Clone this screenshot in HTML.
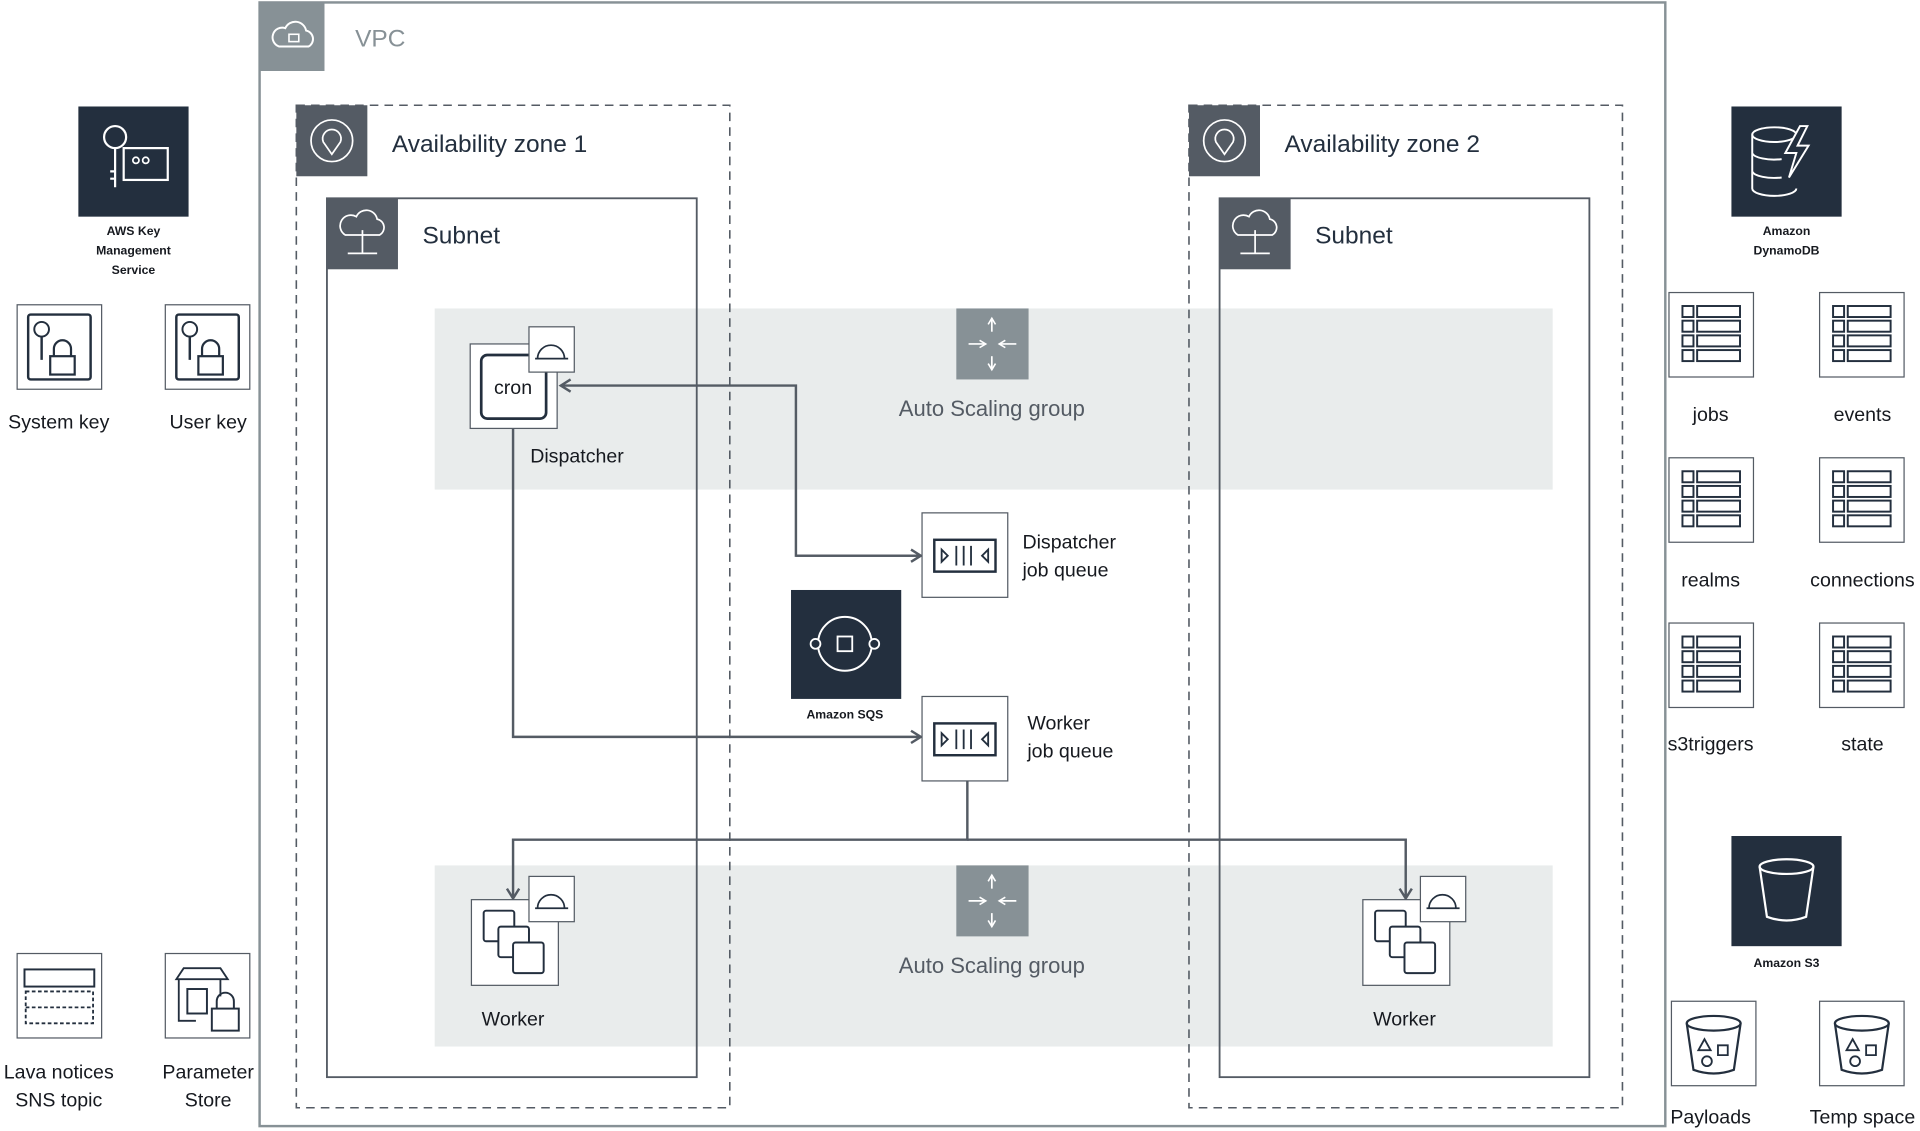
<!DOCTYPE html>
<html><head><meta charset="utf-8"><style>
html,body{margin:0;padding:0;background:#fff;}
svg{display:block;}
text{font-family:"Liberation Sans",sans-serif;fill:#16191f;}
</style></head><body>
<svg width="1920" height="1131" viewBox="0 0 1568 924" preserveAspectRatio="none" xmlns="http://www.w3.org/2000/svg">
<defs>
<marker id="ah" markerWidth="12" markerHeight="12" refX="10" refY="6" orient="auto" markerUnits="userSpaceOnUse">
<path d="M2,1 L10,6 L2,11" fill="none" stroke="#545b64" stroke-width="2"/></marker>
<marker id="wh" markerWidth="8" markerHeight="8" refX="6" refY="4" orient="auto" markerUnits="userSpaceOnUse">
<path d="M1,1 L6,4 L1,7" fill="none" stroke="#fff" stroke-width="1.3"/></marker>
<g id="asg">
<rect x="0" y="0" width="59" height="58" fill="#879196"/>
<g stroke="#fff" stroke-width="1.4" fill="none">
<path d="M29,19 V8" marker-end="url(#wh)"/><path d="M29,39 V50" marker-end="url(#wh)"/>
<path d="M10,29 H24" marker-end="url(#wh)"/><path d="M49,29 H35" marker-end="url(#wh)"/></g></g>
<g id="tbl"><rect x="0" y="0" width="69" height="69" fill="#fff" stroke="#545b64" stroke-width="1"/>
<g fill="none" stroke="#232f3e" stroke-width="1.6">
<rect x="11" y="11" width="9" height="9"/><rect x="23" y="11" width="35" height="9"/>
<rect x="11" y="23" width="9" height="9"/><rect x="23" y="23" width="35" height="9"/>
<rect x="11" y="35" width="9" height="9"/><rect x="23" y="35" width="35" height="9"/>
<rect x="11" y="47" width="9" height="9"/><rect x="23" y="47" width="35" height="9"/></g></g>
<g id="key"><rect x="0" y="0" width="69" height="69" fill="#fff" stroke="#545b64" stroke-width="1"/>
<rect x="9" y="8" width="51" height="53" rx="2" fill="none" stroke="#232f3e" stroke-width="2"/>
<circle cx="20" cy="20" r="6" fill="none" stroke="#232f3e" stroke-width="1.6"/>
<path d="M20,26 V45" stroke="#232f3e" stroke-width="2"/>
<rect x="27" y="42" width="20" height="15" fill="none" stroke="#232f3e" stroke-width="1.8"/>
<path d="M30,42 v-6 a7,7 0 0 1 14,0 v6" fill="none" stroke="#232f3e" stroke-width="1.8"/></g>
<g id="bkt"><rect x="0" y="0" width="69" height="69" fill="#fff" stroke="#545b64" stroke-width="1"/>
<ellipse cx="34.5" cy="18" rx="22" ry="6" fill="none" stroke="#232f3e" stroke-width="1.8"/>
<path d="M12.5,18 L18,56 Q34.5,62 51,56 L56.5,18" fill="none" stroke="#232f3e" stroke-width="1.8"/>
<path d="M22,40 l5,-9 l5,9z M38,36 h8 v8 h-8z" fill="none" stroke="#232f3e" stroke-width="1.5"/>
<circle cx="29" cy="49" r="4" fill="none" stroke="#232f3e" stroke-width="1.5"/></g>
<g id="que"><rect x="0" y="0" width="70" height="69" fill="#fff" stroke="#545b64" stroke-width="1"/>
<rect x="10" y="22" width="50" height="26" fill="none" stroke="#232f3e" stroke-width="2"/>
<path d="M16,30 v10 l5,-5z M54,30 v10 l-5,-5z" fill="none" stroke="#232f3e" stroke-width="1.5"/>
<path d="M28,27 v16 M34,27 v16 M40,27 v16" stroke="#232f3e" stroke-width="1.5"/></g>
<g id="helm"><rect x="0" y="0" width="37" height="37" fill="#fff" stroke="#545b64" stroke-width="1"/>
<path d="M7,26 a11,11 0 0 1 22,0 z M5,26 h27" fill="none" stroke="#232f3e" stroke-width="1.4"/></g>
<g id="wrk"><rect x="0" y="0" width="71" height="70" fill="#fff" stroke="#545b64" stroke-width="1"/>
<rect x="10" y="9" width="25" height="25" rx="2" fill="#fff" stroke="#232f3e" stroke-width="1.6"/>
<rect x="22" y="22" width="25" height="25" rx="2" fill="#fff" stroke="#232f3e" stroke-width="1.6"/>
<rect x="34" y="35" width="25" height="25" rx="2" fill="#fff" stroke="#232f3e" stroke-width="1.6"/></g>
</defs>

<rect x="212" y="2" width="1148" height="918" fill="none" stroke="#879196" stroke-width="2"/>
<rect x="212" y="2" width="53" height="56" fill="#879196"/>
<path d="M228,38 h24 a7,7 0 0 0 -2,-13 a9,9 0 0 0 -17,-2 a7,7 0 0 0 -5,15z" fill="none" stroke="#fff" stroke-width="1.6"/>
<rect x="236" y="28" width="8" height="6" fill="none" stroke="#fff" stroke-width="1.3"/>
<text x="290" y="38" font-size="20" style="fill:#879196">VPC</text>

<rect x="355" y="252" width="913" height="148" fill="#e9ecec"/>
<rect x="355" y="707" width="913" height="148" fill="#e9ecec"/>

<rect x="242" y="86" width="354" height="819" fill="none" stroke="#545b64" stroke-width="1.3" stroke-dasharray="7,5"/>
<rect x="242" y="86" width="58" height="58" fill="#545b64"/>
<circle cx="271" cy="115" r="17" fill="none" stroke="#fff" stroke-width="1.4"/>
<path d="M271,126 l-7,-10 a7.5,7.5 0 1 1 14,0z" fill="none" stroke="#fff" stroke-width="1.4"/>
<text x="320" y="124" font-size="20" style="fill:#232f3e">Availability zone 1</text>
<rect x="267" y="162" width="302" height="718" fill="none" stroke="#545b64" stroke-width="1.5"/>
<rect x="267" y="162" width="58" height="58" fill="#545b64"/>
<path d="M282,192 h28 a7,7 0 0 0 -2,-13 a9,9 0 0 0 -17,-2 a7,7 0 0 0 -9,15z M296,188 v19 M284,207 h24" fill="none" stroke="#fff" stroke-width="1.4"/>
<text x="345" y="199" font-size="20" style="fill:#232f3e">Subnet</text>

<rect x="971" y="86" width="354" height="819" fill="none" stroke="#545b64" stroke-width="1.3" stroke-dasharray="7,5"/>
<rect x="971" y="86" width="58" height="58" fill="#545b64"/>
<circle cx="1000" cy="115" r="17" fill="none" stroke="#fff" stroke-width="1.4"/>
<path d="M1000,126 l-7,-10 a7.5,7.5 0 1 1 14,0z" fill="none" stroke="#fff" stroke-width="1.4"/>
<text x="1049" y="124" font-size="20" style="fill:#232f3e">Availability zone 2</text>
<rect x="996" y="162" width="302" height="718" fill="none" stroke="#545b64" stroke-width="1.5"/>
<rect x="996" y="162" width="58" height="58" fill="#545b64"/>
<path d="M1011,192 h28 a7,7 0 0 0 -2,-13 a9,9 0 0 0 -17,-2 a7,7 0 0 0 -9,15z M1025,188 v19 M1013,207 h24" fill="none" stroke="#fff" stroke-width="1.4"/>
<text x="1074" y="199" font-size="20" style="fill:#232f3e">Subnet</text>

<use href="#asg" x="781" y="252"/>
<text x="810" y="340" font-size="18" text-anchor="middle" style="fill:#545b64">Auto Scaling group</text>
<use href="#asg" x="781" y="707"/>
<text x="810" y="795" font-size="18" text-anchor="middle" style="fill:#545b64">Auto Scaling group</text>

<g fill="none" stroke="#545b64" stroke-width="2">
<path d="M752,454 H650 V315 H458" marker-end="url(#ah)"/>
<path d="M650,454 H752" marker-end="url(#ah)"/>
<path d="M419,350 V602 H752" marker-end="url(#ah)"/>
<path d="M790,637 V686 H419 V734" marker-end="url(#ah)"/>
<path d="M790,686 H1148 V734" marker-end="url(#ah)"/>
</g>

<rect x="384" y="281" width="71" height="69" fill="#fff" stroke="#545b64" stroke-width="1"/>
<rect x="393" y="290" width="53" height="52" rx="5" fill="none" stroke="#232f3e" stroke-width="2.2"/>
<text x="419" y="322" font-size="16" text-anchor="middle">cron</text>
<use href="#helm" x="432" y="267"/>
<text x="433" y="378" font-size="16">Dispatcher</text>

<use href="#que" x="753" y="419"/>
<text x="835" y="448" font-size="16">Dispatcher</text>
<text x="835" y="471" font-size="16">job queue</text>
<rect x="646" y="482" width="90" height="89" fill="#232f3e"/>
<circle cx="690" cy="526" r="22" fill="none" stroke="#fff" stroke-width="1.6"/>
<circle cx="666" cy="526" r="4" fill="#232f3e" stroke="#fff" stroke-width="1.5"/>
<circle cx="714" cy="526" r="4" fill="#232f3e" stroke="#fff" stroke-width="1.5"/>
<rect x="684" y="520" width="12" height="12" fill="#232f3e" stroke="#fff" stroke-width="1.5"/>
<text x="690" y="587" font-size="10" font-weight="bold" text-anchor="middle">Amazon SQS</text>
<use href="#que" x="753" y="569"/>
<text x="839" y="596" font-size="16">Worker</text>
<text x="839" y="619" font-size="16">job queue</text>

<use href="#wrk" x="385" y="735"/>
<use href="#helm" x="432" y="716"/>
<text x="419" y="838" font-size="16" text-anchor="middle">Worker</text>
<use href="#wrk" x="1113" y="735"/>
<use href="#helm" x="1160" y="716"/>
<text x="1147" y="838" font-size="16" text-anchor="middle">Worker</text>

<rect x="64" y="87" width="90" height="90" fill="#232f3e"/>
<circle cx="94" cy="112" r="9" fill="none" stroke="#fff" stroke-width="1.8"/>
<path d="M94,121 v32 M94,140 h-4 M94,146 h-4" stroke="#fff" stroke-width="1.8" fill="none"/>
<rect x="101" y="121" width="36" height="26" fill="none" stroke="#fff" stroke-width="1.8"/>
<circle cx="111" cy="131" r="2.5" fill="none" stroke="#fff" stroke-width="1.4"/><circle cx="119" cy="131" r="2.5" fill="none" stroke="#fff" stroke-width="1.4"/>
<text x="109" y="192" font-size="10" font-weight="bold" text-anchor="middle">AWS Key</text>
<text x="109" y="208" font-size="10" font-weight="bold" text-anchor="middle">Management</text>
<text x="109" y="224" font-size="10" font-weight="bold" text-anchor="middle">Service</text>
<use href="#key" x="14" y="249"/>
<text x="48" y="350" font-size="16" text-anchor="middle">System key</text>
<use href="#key" x="135" y="249"/>
<text x="170" y="350" font-size="16" text-anchor="middle">User key</text>

<rect x="14" y="779" width="69" height="69" fill="#fff" stroke="#545b64" stroke-width="1"/>
<rect x="20" y="792" width="57" height="14" fill="none" stroke="#232f3e" stroke-width="1.6"/>
<rect x="21" y="810" width="55" height="26" fill="none" stroke="#232f3e" stroke-width="1.5" stroke-dasharray="3,2"/>
<path d="M21,823 h55" stroke="#232f3e" stroke-width="1.5" stroke-dasharray="3,2"/>
<text x="48" y="881" font-size="16" text-anchor="middle">Lava notices</text>
<text x="48" y="904" font-size="16" text-anchor="middle">SNS topic</text>
<rect x="135" y="779" width="69" height="69" fill="#fff" stroke="#545b64" stroke-width="1"/>
<path d="M144,800 l6,-9 h30 l6,9z M146,800 v34 h14 M180,800 v14" fill="none" stroke="#232f3e" stroke-width="1.5"/>
<rect x="153" y="808" width="16" height="20" fill="none" stroke="#232f3e" stroke-width="1.6"/>
<rect x="173" y="824" width="22" height="18" fill="#fff" stroke="#232f3e" stroke-width="1.6"/>
<path d="M177,824 v-6 a7,7 0 0 1 14,0 v6" fill="none" stroke="#232f3e" stroke-width="1.6"/>
<text x="170" y="881" font-size="16" text-anchor="middle">Parameter</text>
<text x="170" y="904" font-size="16" text-anchor="middle">Store</text>

<rect x="1414" y="87" width="90" height="90" fill="#232f3e"/>
<ellipse cx="1449" cy="110" rx="18" ry="6" fill="none" stroke="#fff" stroke-width="1.6"/>
<path d="M1431,110 v44 a18,6 0 0 0 36,0 M1431,125 a18,6 0 0 0 24,5 M1431,140 a18,6 0 0 0 24,5" fill="none" stroke="#fff" stroke-width="1.6"/>
<path d="M1470,103 l-12,22 h9 l-6,20 l16,-26 h-9 l8,-16z" fill="#232f3e" stroke="#fff" stroke-width="1.6"/>
<text x="1459" y="192" font-size="10" font-weight="bold" text-anchor="middle">Amazon</text>
<text x="1459" y="208" font-size="10" font-weight="bold" text-anchor="middle">DynamoDB</text>
<use href="#tbl" x="1363" y="239"/><text x="1397" y="344" font-size="16" text-anchor="middle">jobs</text>
<use href="#tbl" x="1486" y="239"/><text x="1521" y="344" font-size="16" text-anchor="middle">events</text>
<use href="#tbl" x="1363" y="374"/><text x="1397" y="479" font-size="16" text-anchor="middle">realms</text>
<use href="#tbl" x="1486" y="374"/><text x="1521" y="479" font-size="16" text-anchor="middle">connections</text>
<use href="#tbl" x="1363" y="509"/><text x="1397" y="613" font-size="16" text-anchor="middle">s3triggers</text>
<use href="#tbl" x="1486" y="509"/><text x="1521" y="613" font-size="16" text-anchor="middle">state</text>

<rect x="1414" y="683" width="90" height="90" fill="#232f3e"/>
<ellipse cx="1459" cy="708" rx="22" ry="6" fill="none" stroke="#fff" stroke-width="1.8"/>
<path d="M1437,708 l6,41 q16,6 32,0 l6,-41" fill="none" stroke="#fff" stroke-width="1.8"/>
<text x="1459" y="790" font-size="10" font-weight="bold" text-anchor="middle">Amazon S3</text>
<use href="#bkt" x="1365" y="818"/><text x="1397" y="918" font-size="16" text-anchor="middle">Payloads</text>
<use href="#bkt" x="1486" y="818"/><text x="1521" y="918" font-size="16" text-anchor="middle">Temp space</text>
</svg>
</body></html>
